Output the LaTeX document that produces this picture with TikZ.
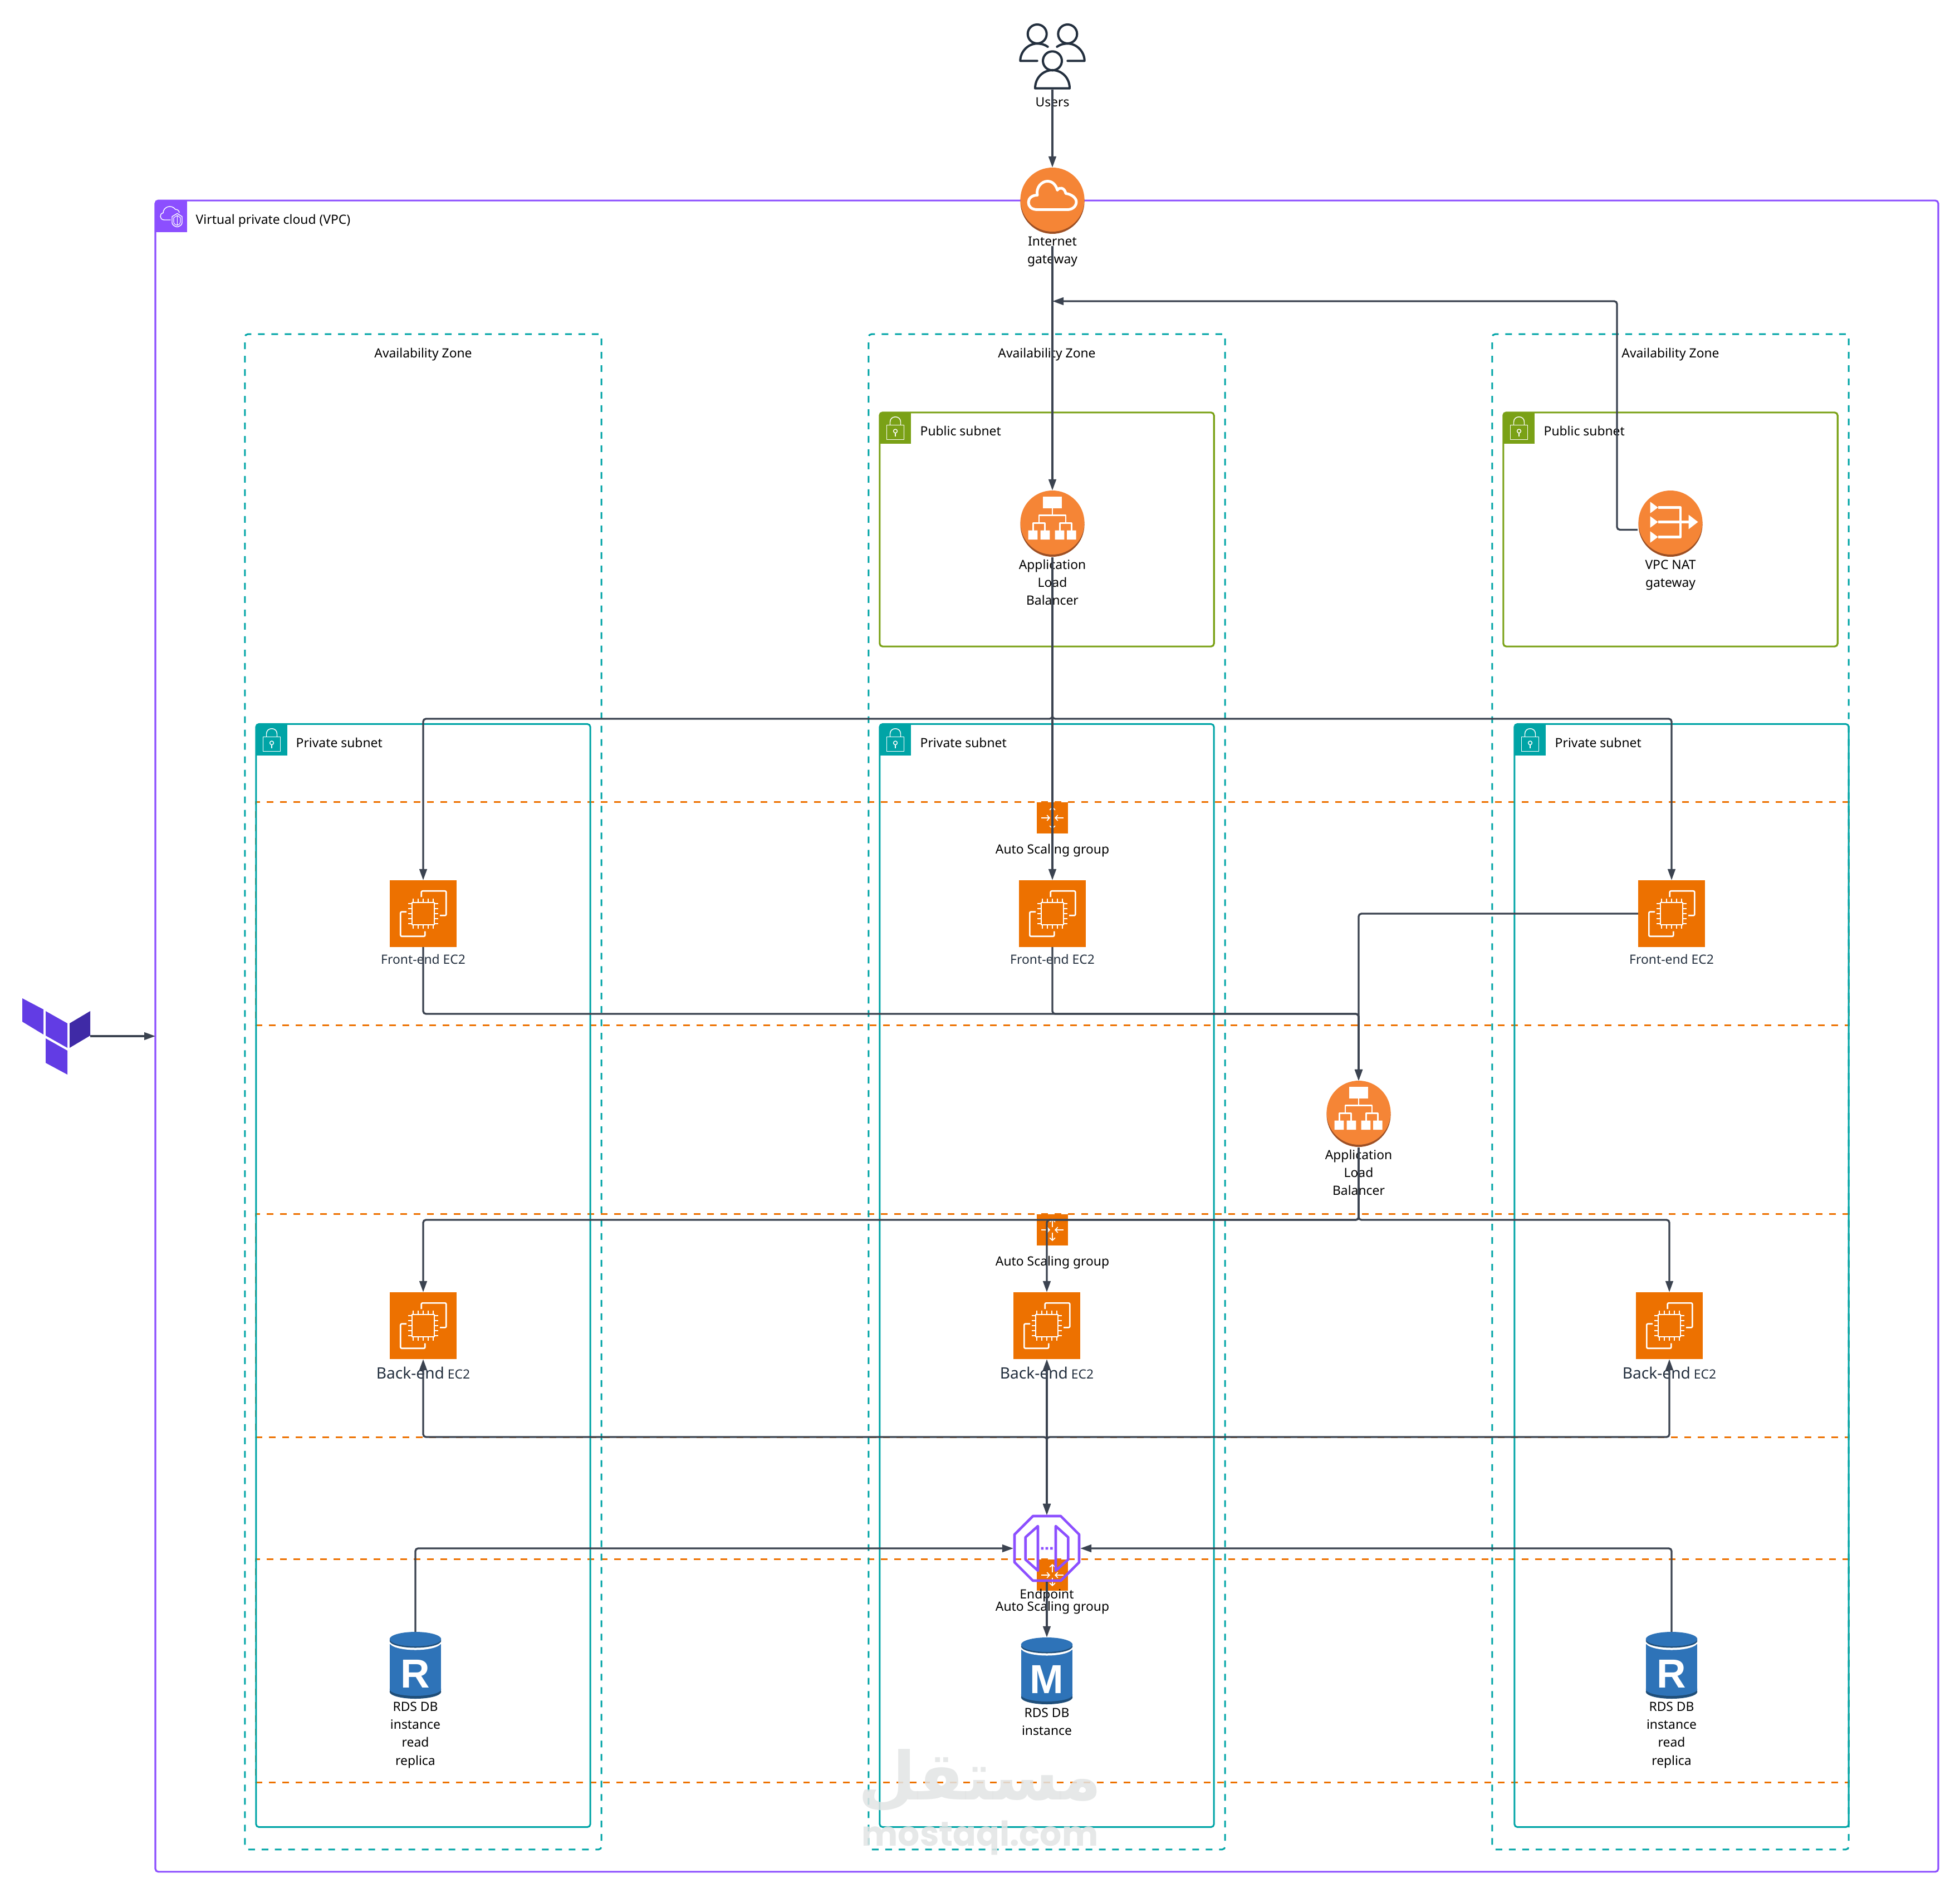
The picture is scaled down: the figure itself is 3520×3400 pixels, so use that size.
\documentclass[tikz,border=0pt]{standalone}
\usepackage{fontspec}
\setmainfont{Noto Sans}
\newfontfamily\rdsfont{Liberation Sans}
\newfontfamily\wmarabic[Script=Arabic]{DejaVu Sans}
\newfontfamily\wmlatin{Poppins}
\TeXXeTstate=1
\usepackage{xcolor}
\usetikzlibrary{positioning,shapes,arrows.meta}

\definecolor{vpcpurple}{HTML}{8C4FFF}
\definecolor{azteal}{HTML}{00A4A6}
\definecolor{pubgreen}{HTML}{7AA116}
\definecolor{asgorange}{HTML}{ED7100}
\definecolor{disc}{HTML}{F58536}
\definecolor{discdark}{HTML}{9D5025}
\definecolor{rdsblue}{HTML}{2E73B8}
\definecolor{rdsdark}{HTML}{1F4E79}
\definecolor{wire}{HTML}{3B4350}
\definecolor{inkdark}{HTML}{232F3E}
\definecolor{tfpurple}{HTML}{623CE4}
\definecolor{tfdark}{HTML}{3F2AA6}
\definecolor{wmgray}{HTML}{E2E4E4}
\newcommand{\lblfont}{\fontsize{6.5}{9.2}\selectfont}

\tikzset{
  lbl/.style={font=\lblfont, align=center, text=black, inner sep=0pt},
  lblbase/.style={lbl, anchor=base},
  lbltag/.style={lbl, anchor=base west},
  vpcbox/.style={draw=vpcpurple, line width=0.9pt, rounded corners=1.5pt, outer sep=0pt, minimum width=32cm, minimum height=30cm},
  azbox/.style={draw=azteal, line width=0.85pt, dash pattern=on 3.41pt off 3.41pt, rounded corners=1.5pt, outer sep=0pt, minimum width=6.4cm, minimum height=27.2cm},
  pubbox/.style={draw=pubgreen, line width=0.9pt, rounded corners=1.5pt, outer sep=0pt, minimum width=6cm, minimum height=4.2cm},
  privbox/.style={draw=azteal, line width=0.85pt, rounded corners=1.5pt, outer sep=0pt, minimum width=6cm, minimum height=19.8cm},
  asgbox/.style={draw=asgorange, line width=0.85pt, dash pattern=on 3.41pt off 3.41pt, outer sep=0pt, minimum width=28.6cm, minimum height=4cm},
  tagicon/.style={minimum size=0.56cm, inner sep=0pt, outer sep=0pt},
  ec2icon/.style={fill=asgorange, minimum size=1.2cm, inner sep=0pt, outer sep=0pt},
  discicon/.style={circle, minimum size=1.2cm, inner sep=0pt, outer sep=0pt},
  rdsicon/.style={minimum width=0.93cm, minimum height=1.2cm, inner sep=0pt, outer sep=0pt},
  plainicon/.style={minimum size=1.2cm, inner sep=0pt, outer sep=0pt},
  conn/.style={draw=wire, line width=0.95pt, rounded corners=1.4pt, -{Triangle[length=5.7pt,width=3.8pt]}},
  both/.style={conn, {Triangle[length=5.7pt,width=3.8pt]}-{Triangle[length=5.7pt,width=3.8pt]}},
  glyph/.style={draw=white, line width=0.75pt, line join=round},
  ec2glyph/.pic={
    \draw[glyph, rounded corners=0.6pt] (-3.3,-30) -- (-3.3,-40.7) -- (41.3,-40.7) -- (41.3,3.3) -- (30,3.3);
    \draw[glyph, rounded corners=0.6pt] (-30,-3.3) -- (-40.7,-3.3) -- (-40.7,40.7) -- (3.3,40.7) -- (3.3,31.7);
    \draw[glyph] (-20,-20) rectangle (20,20);
    \draw[glyph] (-18,-27) -- (-18,-20) (-9,-27) -- (-9,-20) (0,-27) -- (0,-20) (9,-27) -- (9,-20) (18,-27) -- (18,-20);
    \draw[glyph] (-18,20) -- (-18,27) (-9,20) -- (-9,27) (0,20) -- (0,27) (9,20) -- (9,27) (18,20) -- (18,27);
    \draw[glyph] (-27,-18) -- (-20,-18) (-27,-9) -- (-20,-9) (-27,0) -- (-20,0) (-27,9) -- (-20,9) (-27,18) -- (-20,18);
    \draw[glyph] (20,-18) -- (27,-18) (20,-9) -- (27,-9) (20,0) -- (27,0) (20,9) -- (27,9) (20,18) -- (27,18);
  },
  asgglyph/.pic={
    \fill[asgorange] (-28,-28) rectangle (28,28);
    \draw[glyph, line width=0.5pt, -{Straight Barb[length=1.3pt,width=2.8pt]}] (-20,0) -- (-4,0);
    \draw[glyph, line width=0.5pt, -{Straight Barb[length=1.3pt,width=2.8pt]}] (20,0) -- (4,0);
    \draw[glyph, line width=0.5pt, -{Straight Barb[length=1.3pt,width=2.8pt]}] (0,-5) -- (0,-20);
    \draw[glyph, line width=0.5pt, -{Straight Barb[length=1.3pt,width=2.8pt]}] (0,5) -- (0,20);
  },
  discbase/.pic={
    \fill[discdark] (0,1.5) circle[radius=57.5];
    \fill[disc] (0,-2.5) circle[radius=57.5];
  },
  albglyph/.pic={
    \pic {discbase};
    \begin{scope}[shift={(0,-2.5)}]
      \fill[white] (-16.7,-47) rectangle (16.7,-26);
      \draw[glyph] (0,-26) -- (0,-12.7) (-24,0.7) -- (-24,-12.7) -- (24,-12.7) -- (24,0.7);
      \draw[glyph] (-34.5,14) -- (-34.5,0.7) -- (-13.3,0.7) -- (-13.3,14) (13.3,14) -- (13.3,0.7) -- (34.5,0.7) -- (34.5,14);
      \fill[white] (-43.3,14) rectangle (-26.7,30.7) (-21.3,14) rectangle (-4.7,30.7) (4.7,14) rectangle (21.3,30.7) (26,14) rectangle (42.7,30.7);
    \end{scope}
  },
  igwglyph/.pic={
    \pic {discbase};
    \begin{scope}[shift={(0,-2.5)}]
      \draw[glyph, line width=1.4pt] (-27,18) .. controls (-38,18) and (-43,12) .. (-43,5) .. controls (-43,-2) and (-37,-8) .. (-27,-8) .. controls (-30,-22) and (-19,-33) .. (-9,-33) .. controls (0,-33) and (6,-27) .. (9,-17) .. controls (12,-23) and (22,-22) .. (24,-11) .. controls (34,-10) and (43,-3) .. (43,4) .. controls (43,12) and (36,18) .. (27,18) -- cycle;
    \end{scope}
  },
  natglyph/.pic={
    \pic {discbase};
    \begin{scope}[shift={(0,-2.5)}]
      \fill[white] (-36.4,-37.3) -- (-22.4,-27) -- (-36.4,-16.7) -- cycle;
      \fill[white] (-36.4,-11.3) -- (-22.4,-1) -- (-36.4,9.3) -- cycle;
      \fill[white] (-36.4,15.7) -- (-22.4,26) -- (-36.4,36.3) -- cycle;
      \draw[glyph, line width=1.2pt] (-22.4,-27) -- (17.8,-27) -- (17.8,26) -- (-22.4,26);
      \draw[glyph, line width=1.2pt] (-22.4,-1) -- (33,-1);
      \fill[white] (32.6,-14) -- (49.5,-1) -- (32.6,12) -- cycle;
    \end{scope}
  },
  lockglyph/.pic={
    \draw[glyph, line width=0.4pt] (-15.5,-5.3) rectangle (15.5,20.3);
    \draw[glyph, line width=0.4pt] (-9.5,-5.3) -- (-9.5,-11) .. controls (-9.5,-17) and (-5,-20.3) .. (0,-20.3) .. controls (5,-20.3) and (9.5,-17) .. (9.5,-11) -- (9.5,-5.3);
    \draw[glyph, line width=0.4pt] (0,5.3) circle[radius=3.4];
    \draw[glyph, line width=0.4pt] (0,8.7) -- (0,15);
  },
  vpcglyph/.pic={
    \draw[glyph, line width=0.4pt] (-1.3,6) -- (-13,6) .. controls (-22,6) and (-22,-6) .. (-15,-6.5) .. controls (-15,-17) and (-1,-23) .. (7,-13) .. controls (11,-13) and (14,-10) .. (14,-7);
    \draw[glyph, line width=0.4pt] (1,0) -- (10.3,-5.5) -- (19,0) -- (19,11) .. controls (19,15) and (14,18) .. (10.3,18.5) .. controls (6,18) and (1,15) .. (1,11) -- cycle;
    \draw[glyph, line width=0.3pt] (4,2) -- (10.3,-2) -- (16,2) -- (16,10) .. controls (16,13) and (13,15) .. (10.3,15.5) .. controls (7,15) and (4,13) .. (4,10) -- cycle (10.3,-2) -- (10.3,15.5);
  },
  usersglyph/.pic={
    \begin{scope}[draw=inkdark, line width=1.15pt, line cap=round, line join=round]
      \draw (0,8.3) circle[radius=17];
      \draw (-31,57.7) .. controls (-31,38) and (-16,25) .. (0,25) .. controls (16,25) and (31,38) .. (31,57.7) -- cycle;
      \draw (-27.3,-40) circle[radius=17];
      \draw (27.3,-40) circle[radius=17];
      \draw (-8.3,-17) .. controls (-14,-21) and (-20,-22.7) .. (-27.3,-22.7) .. controls (-44,-22.7) and (-57.7,-8) .. (-57.7,8.3) -- (-27.3,8.3);
      \draw (8.3,-17) .. controls (14,-21) and (20,-22.7) .. (27.3,-22.7) .. controls (44,-22.7) and (57.7,-8) .. (57.7,8.3) -- (27.3,8.3);
    \end{scope}
  },
  epglyph/.pic={
    \begin{scope}[draw=vpcpurple, line width=1.3pt, line join=round]
      \draw (-25,-58) -- (25,-58) -- (58,-25) -- (58,25) -- (25,58) -- (-25,58) -- (-58,25) -- (-58,-25) -- cycle;
      \draw (-16,-40) -- (-38.3,-20) -- (-38.3,20) -- (-16,40) -- cycle;
      \draw (16,-40) -- (38.3,-20) -- (38.3,20) -- (16,40) -- cycle;
    \end{scope}
    \fill[vpcpurple] (-10.5,-2.3) rectangle (-6,2.3) (-2.3,-2.3) rectangle (2.3,2.3) (6,-2.3) rectangle (10.5,2.3);
  },
  rdsglyph/.pic={
    \fill[rdsdark] (-46.3,30) rectangle (46.3,47.5);
    \fill[rdsdark] (0,47.5) ellipse[x radius=46.3, y radius=12.5];
    \fill[rdsblue] (-46.3,-38) rectangle (46.3,43);
    \fill[rdsblue] (0,43) ellipse[x radius=46.3, y radius=12];
    \fill[white] (0,-41) ellipse[x radius=46.3, y radius=13.5];
    \fill[rdsdark] (-46.3,-47) rectangle (46.3,-44);
    \fill[rdsdark] (0,-44) ellipse[x radius=46.3, y radius=12.5];
    \fill[rdsblue] (0,-47) ellipse[x radius=46.3, y radius=13];
    \node[text=white, inner sep=0pt, font=\rdsfont\bfseries\fontsize{20.7}{20.7}\selectfont] (-letter) at (0,15) {#1};
  },
}

\begin{document}
\begin{tikzpicture}[x=0.01cm, y=-0.01cm]
\useasboundingbox (0,-1) rectangle (3520,3399);

% Containers
\node[vpcbox] (vpc) at (1880,1860) {};
\node[asgbox] (asg1) at (1890,1640) {};
\node[asgbox] (asg2) at (1890,2380) {};
\node[asgbox] (asg3) at (1890,3000) {};
\node[azbox] (az1) at (760,1960) {};
\node[azbox] (az2) at (1880,1960) {};
\node[azbox] (az3) at (3000,1960) {};
\node[pubbox] (pub2) at (1880,950) {};
\node[pubbox] (pub3) at (3000,950) {};
\node[privbox] (priv1) at (760,2290) {};
\node[privbox] (priv2) at (1880,2290) {};
\node[privbox] (priv3) at (3020,2290) {};

% Container tags
\node[tagicon, fill=vpcpurple] (vpctag) at (308,388) {};
\pic at (vpctag) {vpcglyph};
\node[lbltag] (vpclbl) at (351,401.5) {Virtual private cloud (VPC)};
\node[lblbase] (az1lbl) at (760,641.5) {Availability Zone};
\node[lblbase] (az2lbl) at (1880,641.5) {Availability Zone};
\node[lblbase] (az3lbl) at (3000,641.5) {Availability Zone};
\node[tagicon, fill=pubgreen] (pub2tag) at (1608,768) {};
\pic at (pub2tag) {lockglyph};
\node[lbltag] (pub2lbl) at (1652,781.5) {Public subnet};
\node[tagicon, fill=pubgreen] (pub3tag) at (2728,768) {};
\pic at (pub3tag) {lockglyph};
\node[lbltag] (pub3lbl) at (2772,781.5) {Public subnet};
\node[tagicon, fill=azteal] (priv1tag) at (488,1328) {};
\pic at (priv1tag) {lockglyph};
\node[lbltag] (priv1lbl) at (531,1341.5) {Private subnet};
\node[tagicon, fill=azteal] (priv2tag) at (1608,1328) {};
\pic at (priv2tag) {lockglyph};
\node[lbltag] (priv2lbl) at (1652,1341.5) {Private subnet};
\node[tagicon, fill=azteal] (priv3tag) at (2748,1328) {};
\pic at (priv3tag) {lockglyph};
\node[lbltag] (priv3lbl) at (2792,1341.5) {Private subnet};

% Auto scaling groups
\node[tagicon] (asg1tag) at (1890,1468) {};
\pic at (asg1tag) {asgglyph};
\node[lblbase] (asg1lbl) at (1890,1532.5) {Auto Scaling group};
\node[tagicon] (asg2tag) at (1890,2208) {};
\pic at (asg2tag) {asgglyph};
\node[lblbase] (asg2lbl) at (1890,2272.5) {Auto Scaling group};
\node[tagicon] (asg3tag) at (1890,2828) {};
\pic at (asg3tag) {asgglyph};
\node[lblbase] (asg3lbl) at (1890,2892.5) {Auto Scaling group};

% Terraform
\node[minimum width=1.22cm, minimum height=1.38cm, inner sep=0pt, outer sep=0pt] (tf) at (101,1860) {};
\fill[tfpurple] (40,1792) -- (78,1812) -- (78,1857) -- (40,1834) -- cycle;
\fill[tfpurple] (82,1815) -- (121,1837) -- (121,1881) -- (82,1859) -- cycle;
\fill[tfpurple] (82,1864) -- (121,1886) -- (121,1929) -- (82,1908) -- cycle;
\fill[tfdark] (125,1837) -- (162,1815) -- (162,1859) -- (125,1881) -- cycle;

% Users and gateways
\node[plainicon] (users) at (1890,100) {};
\pic at (users) {usersglyph};
\node[lblbase] (userslbl) at (1890,190.5) {Users};
\node[discicon] (igw) at (1890,360) {};
\pic at (igw) {igwglyph};
\node[lbl] (igwlbl) at (1890,451) {Internet\\gateway};
\node[discicon] (alb1) at (1890,940) {};
\pic at (alb1) {albglyph};
\node[lbl] (alb1lbl) at (1890,1045) {Application\\Load\\Balancer};
\node[discicon] (nat) at (3000,940) {};
\pic at (nat) {natglyph};
\node[lbl] (natlbl) at (3000,1032) {VPC NAT\\gateway};
\node[discicon] (alb2) at (2440,2000) {};
\pic at (alb2) {albglyph};
\node[lbl] (alb2lbl) at (2440,2105) {Application\\Load\\Balancer};

% Front-end
\node[ec2icon] (fe1) at (760,1640) {};
\pic at (fe1) {ec2glyph};
\node[lblbase, text=inkdark] (fe1lbl) at (760,1730) {Front-end EC2};
\node[ec2icon] (fe2) at (1890,1640) {};
\pic at (fe2) {ec2glyph};
\node[lblbase, text=inkdark] (fe2lbl) at (1890,1730) {Front-end EC2};
\node[ec2icon] (fe3) at (3002,1640) {};
\pic at (fe3) {ec2glyph};
\node[lblbase, text=inkdark] (fe3lbl) at (3002,1730) {Front-end EC2};

% Back-end
\node[ec2icon] (be1) at (760,2380) {};
\pic at (be1) {ec2glyph};
\node[lblbase, text=inkdark] (be1lbl) at (760,2475) {{\fontsize{8}{9.2}\selectfont Back-end} EC2};
\node[ec2icon] (be2) at (1880,2380) {};
\pic at (be2) {ec2glyph};
\node[lblbase, text=inkdark] (be2lbl) at (1880,2475) {{\fontsize{8}{9.2}\selectfont Back-end} EC2};
\node[ec2icon] (be3) at (2998,2380) {};
\pic at (be3) {ec2glyph};
\node[lblbase, text=inkdark] (be3lbl) at (2998,2475) {{\fontsize{8}{9.2}\selectfont Back-end} EC2};

% Database tier
\node[plainicon] (ep) at (1880,2780) {};
\pic at (ep) {epglyph};
\node[lblbase] (eplbl) at (1880,2870) {Endpoint};
\node[rdsicon] (rds1) at (746,2990) {};
\pic at (rds1) {rdsglyph={R}};
\node[lbl] (rds1lbl) at (746,3115) {RDS DB\\instance\\read\\replica};
\node[rdsicon] (rdsm) at (1880,3000) {};
\pic at (rdsm) {rdsglyph={M}};
\node[lbl] (rdsmlbl) at (1880,3091) {RDS DB\\instance};
\node[rdsicon] (rds3) at (3002,2990) {};
\pic at (rds3) {rdsglyph={R}};
\node[lbl] (rds3lbl) at (3002,3115) {RDS DB\\instance\\read\\replica};

% Bus levels
\coordinate (natbus) at (0,540);
\coordinate (frontbus) at (0,1290);
\coordinate (albbus) at (0,1820);
\coordinate (backbus) at (0,2190);
\coordinate (epbus) at (0,2580);

% Connectors
\draw[conn] (tf.east) -- (vpc.west);
\draw[conn] (users.south) -- (igw.north);
\draw[conn, shorten <=6pt] (igw.south) -- (alb1.north);
\draw[conn] (nat.190) -| (2904,540) -- (alb1.north |- natbus);
\draw[conn] (alb1.south) |- (fe1.north |- frontbus) -- (fe1.north);
\draw[conn] (alb1.south) -- (fe2.north);
\draw[conn] (alb1.south) |- (fe3.north |- frontbus) -- (fe3.north);
\draw[conn] (fe1.south) |- (alb2.north |- albbus) -- (alb2.north);
\draw[conn] (fe2.south) |- (alb2.north |- albbus) -- (alb2.north);
\draw[conn] (fe3.west) -| (alb2.north);
\draw[conn] (alb2.south) |- (be1.north |- backbus) -- (be1.north);
\draw[conn] (alb2.south) |- (be2.north |- backbus) -- (be2.north);
\draw[conn] (alb2.south) |- (be3.north |- backbus) -- (be3.north);
\draw[both] (be1.south) |- (ep.north |- epbus) -- (ep.north);
\draw[both] (be2.south) -- (ep.north);
\draw[both] (be3.south) |- (ep.north |- epbus) -- (ep.north);
\draw[conn] (ep.south) -- (rdsm.north);
\draw[conn] (rds1.north) |- (ep.west);
\draw[conn] (rds3.north) |- (ep.east);

% Watermark
\node[inner sep=0pt, text=wmgray, text opacity=0.85, font=\wmarabic\bfseries\fontsize{34}{34}\selectfont] (wmar) at (1760,3197) {\beginR مستقل\endR};
\node[inner sep=0pt, text=wmgray, text opacity=0.85, font=\wmlatin\bfseries\fontsize{17.5}{17.5}\selectfont] (wmlat) at (1760,3300) {mostaql.com};
\end{tikzpicture}
\end{document}
